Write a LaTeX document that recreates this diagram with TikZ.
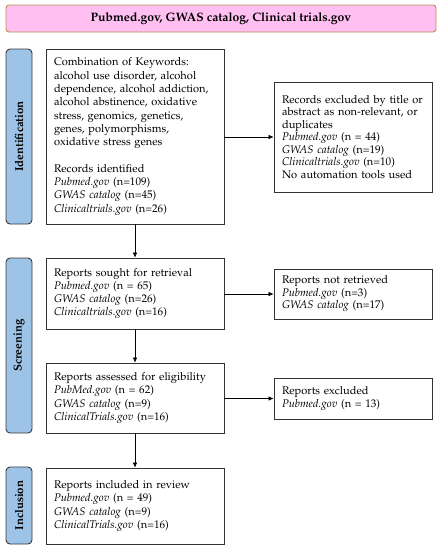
\documentclass[tikz,border=0pt]{standalone}
\usepackage[T1]{fontenc}
\usepackage{mathpazo}
\usetikzlibrary{arrows.meta}
\definecolor{titlefill}{HTML}{FFBFF0}
\definecolor{titledraw}{HTML}{B8924F}
\definecolor{phasefill}{HTML}{9DC3E6}
\definecolor{phasedraw}{HTML}{3A3A3A}
\definecolor{boxdraw}{HTML}{333333}
\begin{document}
\begin{tikzpicture}[x=1pt,y=1pt,
  every node/.style={font=\fontsize{11.1}{13.3}\selectfont},
  titlebox/.style={draw=titledraw,fill=titlefill,line width=0.9pt,rounded corners=3pt,
    minimum width=430pt,minimum height=27pt,inner sep=0pt,font=\fontsize{12.2}{14}\selectfont\bfseries},
  phase/.style={draw=phasedraw,fill=phasefill,line width=0.9pt,rounded corners=4pt,
    minimum height=26pt,inner sep=0pt,rotate=90,font=\fontsize{11.5}{13}\selectfont\bfseries},
  textbox/.style={draw=boxdraw,line width=0.8pt,inner xsep=8pt,inner ysep=0pt,align=left},
  mainbox/.style={textbox,text width=162pt,minimum width=176pt,
    font=\fontsize{11.1}{13.3}\selectfont},
  sidebox/.style={textbox,text width=142pt,minimum width=156pt,
    font=\fontsize{11.1}{12.5}\selectfont},
  arr/.style={draw=black,line width=0.6pt,-{Latex[length=5pt,width=4.5pt]}}]
\useasboundingbox (0,0) rectangle (441,-550);

\node[titlebox] (title) at (221,-18.5) {Pubmed.gov, GWAS catalog, Clinical trials.gov};

\node[phase,minimum width=175pt] (pid) at (19,-136.5) {Identification};
\node[phase,minimum width=175pt] (psc) at (19,-345.5) {Screening};
\node[phase,minimum width=77pt] (pin) at (19,-505.5) {Inclusion};

\node[mainbox,minimum height=175pt] (b1) at (135,-136.5) {Combination of Keywords:\\
alcohol use disorder, alcohol\\
dependence, alcohol addiction,\\
alcohol abstinence, oxidative\\
stress, genomics, genetics,\\
genes, polymorphisms,\\
oxidative stress genes\\[13.3pt]
Records identified\\
\textit{Pubmed.gov} (n=109)\\
\textit{GWAS catalog} (n=45)\\
\textit{Clinicaltrials.gov} (n=26)};

\node[mainbox,minimum height=71pt] (b2) at (135,-293.5) {Reports sought for retrieval\\
\textit{Pubmed.gov} (n = 65)\\
\textit{GWAS catalog} (n=26)\\
\textit{Clinicaltrials.gov} (n=16)};

\node[mainbox,minimum height=70pt] (b3) at (135,-398) {Reports assessed for eligibility\\
\textit{PubMed.gov} (n = 62)\\
\textit{GWAS catalog} (n=9)\\
\textit{ClinicalTrials.gov} (n=16)};

\node[mainbox,minimum height=76pt] (b4) at (135,-506) {Reports included in review\\
\textit{Pubmed.gov} (n = 49)\\
\textit{GWAS catalog} (n=9)\\
\textit{ClinicalTrials.gov} (n=16)};

\node[sidebox,minimum height=110pt] (r1) at (353,-137) {Records excluded by title or\\
abstract as non-relevant, or\\
duplicates\\
\textit{Pubmed.gov} (n = 44)\\
\textit{GWAS catalog} (n=19)\\
\textit{Clinicaltrials.gov} (n=10)\\
No automation tools used};

\node[sidebox,minimum height=50pt] (r2) at (353,-294) {Reports not retrieved\\
\textit{Pubmed.gov} (n=3)\\
\textit{GWAS catalog} (n=17)};

\node[sidebox,minimum height=41pt] (r3) at (353,-398.5) {Reports excluded\\
\textit{Pubmed.gov} (n = 13)};

\draw[arr] (b1) -- (b2);
\draw[arr] (b2) -- (b3);
\draw[arr] (b3) -- (b4);
\draw[arr] (b1.east |- r1.west) -- (r1.west);
\draw[arr] (b2.east |- r2.west) -- (r2.west);
\draw[arr] (b3.east |- r3.west) -- (r3.west);
\end{tikzpicture}
\end{document}
